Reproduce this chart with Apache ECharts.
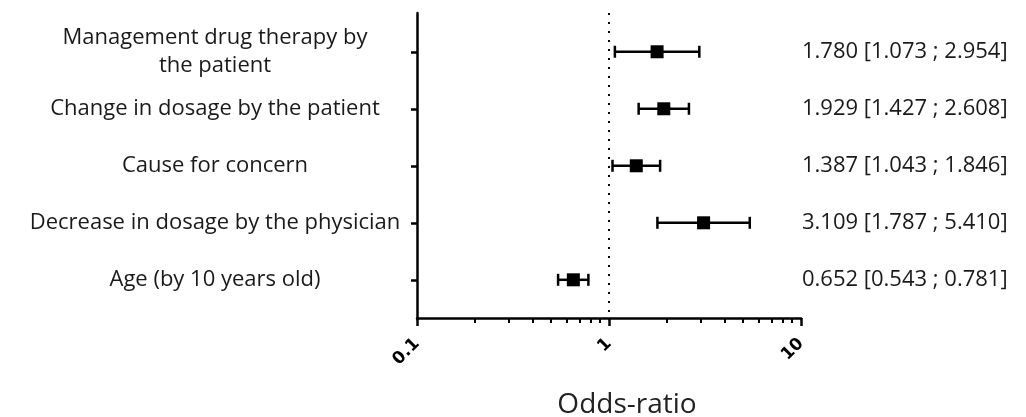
<!DOCTYPE html>
<html>
<head>
<meta charset="utf-8">
<script src="https://cdn.jsdelivr.net/npm/echarts@6/dist/echarts.min.js"></script>
<style>
  html, body { margin: 0; padding: 0; background: #fff; }
  #chart { width: 1026px; height: 417px; }
</style>
</head>
<body>
<div id="chart"></div>
<script>
// variables, top to bottom
const categories = [
  'Management drug therapy by\nthe patient',
  'Change in dosage by the patient',
  'Cause for concern',
  'Decrease in dosage by the physician',
  'Age (by 10 years old)'
];
const oddsRatio = [1.780, 1.929, 1.387, 3.109, 0.652];
const ciLow = [1.073, 1.427, 1.043, 1.787, 0.543];
const ciHigh = [2.954, 2.608, 1.846, 5.410, 0.781];
const xTicks = [0.1, 1, 10];

const rows = categories.map((c, i) => i + 1);
const ciLabels = oddsRatio.map((v, i) =>
  v.toFixed(3) + ' [' + ciLow[i].toFixed(3) + ' ; ' + ciHigh[i].toFixed(3) + ']');
const data = oddsRatio.map((v, i) => [v, rows[i], ciLow[i], ciHigh[i]]);

const font = 'Open Sans';

function renderItem(params, api) {
  const y = api.value(1);
  const mid = api.coord([api.value(0), y]);
  const lo = api.coord([api.value(2), y]);
  const hi = api.coord([api.value(3), y]);
  const cap = 6, sq = 13;
  const line = { stroke: '#000', lineWidth: 2.5 };
  return {
    type: 'group',
    children: [
      { type: 'line', shape: { x1: lo[0], y1: lo[1], x2: hi[0], y2: hi[1] }, style: line },
      { type: 'line', shape: { x1: lo[0], y1: lo[1] - cap, x2: lo[0], y2: lo[1] + cap }, style: line },
      { type: 'line', shape: { x1: hi[0], y1: hi[1] - cap, x2: hi[0], y2: hi[1] + cap }, style: line },
      { type: 'rect', shape: { x: mid[0] - sq / 2, y: mid[1] - sq / 2, width: sq, height: sq }, style: { fill: '#000' } }
    ]
  };
}

const chart = echarts.init(document.getElementById('chart'));
chart.setOption({
  animation: false,
  grid: { left: 417, right: 225, top: 13, bottom: 99, outerBoundsMode: 'none' },
  xAxis: {
    type: 'log',
    min: 0.1,
    max: 10,
    logBase: 10,
    name: 'Odds-ratio',
    nameLocation: 'middle',
    nameGap: 73,
    nameMoveOverlap: false,
    nameTextStyle: { fontFamily: font, fontSize: 28, color: '#222', padding: [0, 0, 0, 36] },
    axisLine: { lineStyle: { color: '#000', width: 2.5 } },
    axisTick: { length: 8, lineStyle: { color: '#000', width: 2.5 } },
    minorTick: { show: true, splitNumber: 9, length: 5, lineStyle: { color: '#000', width: 2 } },
    splitLine: { show: false },
    axisLabel: {
      rotate: 45,
      margin: 23,
      fontFamily: 'DejaVu Sans',
      fontWeight: 'bold',
      fontSize: 17,
      color: '#000',
      customValues: xTicks,
      formatter: v => String(v)
    }
  },
  yAxis: [{
    type: 'value',
    inverse: true,
    min: 0.32,
    max: 5.67,
    splitLine: { show: false },
    axisLine: { show: true, lineStyle: { color: '#000', width: 2.5 } },
    axisTick: { show: true, length: 6, customValues: rows, lineStyle: { color: '#000', width: 2.5 } },
    axisLabel: {
      customValues: rows,
      margin: 202,
      align: 'center',
      fontFamily: font,
      fontSize: 22,
      lineHeight: 28,
      color: '#1a1a1a',
      formatter: v => categories[Math.round(v) - 1]
    }
  }, {
    type: 'value',
    position: 'right',
    inverse: true,
    min: 0.32,
    max: 5.67,
    splitLine: { show: false },
    axisLine: { show: false },
    axisTick: { show: false },
    axisLabel: {
      customValues: rows,
      margin: 1,
      align: 'left',
      fontFamily: font,
      fontSize: 22,
      color: '#1a1a1a',
      formatter: v => ciLabels[Math.round(v) - 1]
    }
  }],
  series: [{
    type: 'custom',
    renderItem: renderItem,
    data: data,
    encode: { x: [0, 2, 3], y: 1 },
    markLine: {
      silent: true,
      symbol: 'none',
      label: { show: false },
      lineStyle: { color: '#000', type: [2, 7], width: 2 },
      data: [{ xAxis: 1 }]
    }
  }]
});
</script>
</body>
</html>
